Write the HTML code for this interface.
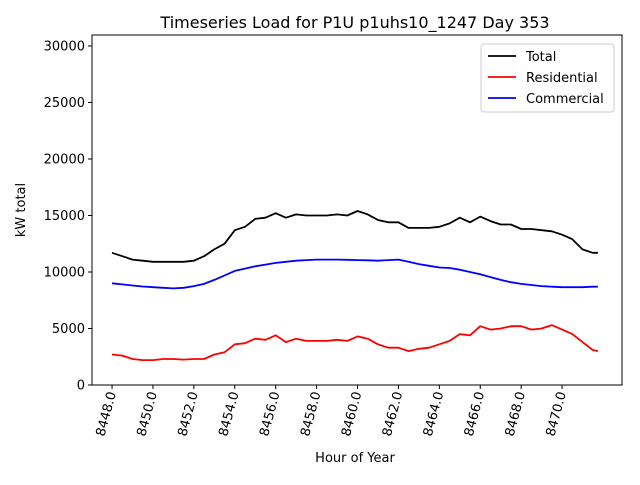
<!DOCTYPE html>
<html><head><meta charset="utf-8"><style>
body{margin:0;background:#fff;}
svg text{font-family:"DejaVu Sans","Liberation Sans",sans-serif;fill:#000;}
</style></head><body>
<svg width="640" height="480" id="chart">
<rect width="640" height="480" fill="#fff"/>
<text x="355" y="28" font-size="16" text-anchor="middle">Timeseries Load for P1U p1uhs10_1247  Day 353</text>
<text x="355" y="462" font-size="13" text-anchor="middle">Hour of Year</text>
<text transform="translate(25,210) rotate(-90)" font-size="13" text-anchor="middle">kW total</text>
<g id="axes"></g>
</svg>
<script>
const hours=[8448,8448.5,8449,8449.5,8450,8450.5,8451,8451.5,8452,8452.5,8453,8453.5,8454,8454.5,8455,8455.5,8456,8456.5,8457,8457.5,8458,8458.5,8459,8459.5,8460,8460.5,8461,8461.5,8462,8462.5,8463,8463.5,8464,8464.5,8465,8465.5,8466,8466.5,8467,8467.5,8468,8468.5,8469,8469.5,8470,8470.5,8471,8471.5,8471.75];
const totalLoad=[11700,11400,11100,11000,10900,10900,10900,10900,11000,11400,12000,12500,13700,14000,14700,14800,15200,14800,15100,15000,15000,15000,15100,15000,15400,15100,14600,14400,14400,13900,13900,13900,14000,14300,14800,14400,14900,14500,14200,14200,13800,13800,13700,13600,13300,12900,12000,11700,11700];
const residentialLoad=[2700,2600,2300,2200,2200,2300,2300,2250,2300,2300,2700,2900,3600,3700,4100,4000,4400,3800,4100,3900,3900,3900,4000,3900,4300,4100,3600,3300,3300,3000,3200,3300,3600,3900,4500,4400,5200,4900,5000,5200,5200,4900,5000,5300,4900,4500,3800,3100,3000];
const commercialLoad=[9000,8900,8800,8720,8650,8600,8550,8600,8750,8950,9300,9700,10100,10300,10500,10650,10800,10900,11000,11050,11100,11100,11100,11080,11050,11030,11000,11050,11100,10900,10700,10550,10400,10350,10200,10000,9800,9550,9300,9100,8950,8850,8750,8700,8650,8650,8650,8700,8700];
const xTicks=[8448,8450,8452,8454,8456,8458,8460,8462,8464,8466,8468,8470];
const yTicks=[0,5000,10000,15000,20000,25000,30000];
const seriesNames=["Total","Residential","Commercial"];
const seriesColors=["#000000","#ff0000","#0000ff"];

const NS="http://www.w3.org/2000/svg";
const L=92,R=622,T=35,B=385;
const xMin=8447.02,xMax=8472.93,yMin=0,yMax=30970;
const sx=v=>L+(v-xMin)/(xMax-xMin)*(R-L);
const sy=v=>B-(v-yMin)/(yMax-yMin)*(B-T);
const g=document.getElementById('axes');
function mk(tag,attrs){const e=document.createElementNS(NS,tag);for(const k in attrs)e.setAttribute(k,attrs[k]);g.appendChild(e);return e;}

const frame=mk('rect',{x:L,y:T,width:R-L,height:B-T,fill:'none',stroke:'#000','stroke-width':1});



yTicks.forEach(v=>{
  const t=mk('line',{x1:L-4,x2:L,y1:sy(v),y2:sy(v),stroke:'#000'});
  
  
  const tx=mk('text',{x:L-7,y:sy(v)+4.5,'font-size':13,'text-anchor':'end'});
  tx.textContent=v;
  
  
});
xTicks.forEach(v=>{
  const t=mk('line',{x1:sx(v),x2:sx(v),y1:B,y2:B+4,stroke:'#000'});
  
  
  const tx=mk('text',{transform:`translate(${sx(v)+4},${B+8}) rotate(-75)`,'font-size':13,'text-anchor':'end'});
  tx.textContent=v.toFixed(1);
  
  
});
[totalLoad,residentialLoad,commercialLoad].forEach((s,i)=>{
  const d=s.map((v,j)=>(j?'L':'M')+sx(hours[j]).toFixed(1)+','+sy(v).toFixed(1)).join(' ');
  const p=mk('path',{d:d,fill:'none',stroke:seriesColors[i],'stroke-width':1.8,'stroke-linejoin':'round'});
  
  
});
const lg=mk('rect',{x:481,y:44,width:133,height:68,fill:'#fff',stroke:'#ccc',rx:3});


seriesNames.forEach((n,i)=>{
  const y=56+i*21;
  const ln=mk('line',{x1:488,x2:516,y1:y,y2:y,stroke:seriesColors[i],'stroke-width':1.8});
  
  
  const tx=mk('text',{x:526,y:y+5,'font-size':13});
  tx.textContent=n;
  
  
});
</script>
</body></html>
